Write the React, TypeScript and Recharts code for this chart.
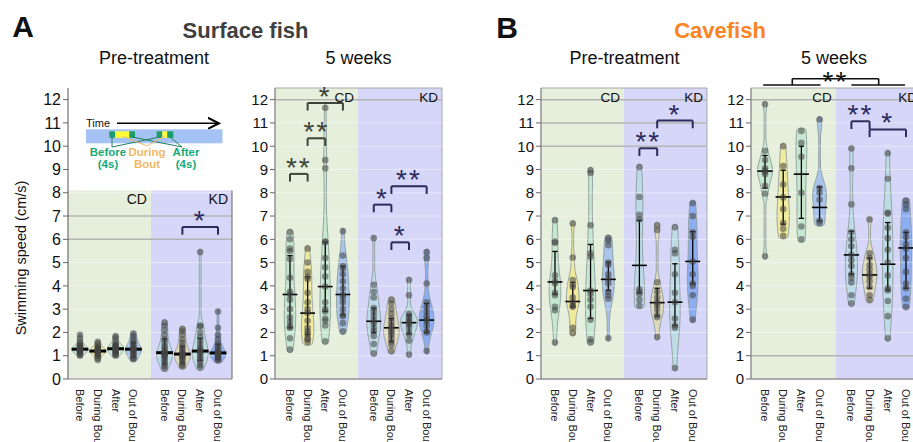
import React from 'react'
import {
  ComposedChart,
  Area,
  Scatter,
  XAxis,
  YAxis,
  ReferenceArea,
  ReferenceLine
} from 'recharts'

const categories = ['Before', 'During Bout', 'After', 'Out of Bout']
const slots = [1, 2, 3, 4, 5.75, 6.75, 7.75, 8.75]
const yTicks = [0, 1, 2, 3, 4, 5, 6, 7, 8, 9, 10, 11, 12]

// Surface fish, pre-treatment (CD x4 then KD x4)
const surfacePreDots = [
  [1.0, 1.05, 1.1, 1.15, 1.2, 1.22, 1.25, 1.28, 1.3, 1.32, 1.35, 1.4, 1.45, 1.5, 1.6, 1.75, 1.9],
  [0.82, 0.9, 1.0, 1.05, 1.1, 1.15, 1.18, 1.2, 1.22, 1.25, 1.3, 1.35, 1.4, 1.5, 1.6],
  [1.0, 1.05, 1.1, 1.15, 1.2, 1.25, 1.3, 1.32, 1.35, 1.4, 1.45, 1.5, 1.6, 1.75, 1.85],
  [0.85, 0.9, 1.0, 1.05, 1.1, 1.2, 1.25, 1.28, 1.3, 1.35, 1.4, 1.5, 1.6, 1.7, 1.85, 1.95],
  [0.45, 0.55, 0.65, 0.75, 0.85, 0.95, 1.0, 1.05, 1.1, 1.13, 1.2, 1.3, 1.4, 1.55, 1.7, 1.9, 2.1, 2.3, 2.42],
  [0.55, 0.6, 0.7, 0.8, 0.9, 0.95, 1.0, 1.05, 1.07, 1.1, 1.2, 1.3, 1.4, 1.55, 1.7, 1.9, 2.05, 2.15],
  [0.5, 0.6, 0.75, 0.85, 0.95, 1.05, 1.15, 1.2, 1.25, 1.35, 1.5, 1.65, 1.8, 2.0, 2.25, 2.3, 5.45],
  [0.8, 0.85, 0.9, 0.95, 1.0, 1.05, 1.1, 1.12, 1.15, 1.2, 1.3, 1.4, 1.5, 1.7, 1.9, 2.2, 2.9]
]
const surfacePreMedians = [1.28, 1.2, 1.3, 1.28, 1.13, 1.07, 1.2, 1.12]
const surfacePreErrors = [[1.1, 1.45], [1.0, 1.38], [1.12, 1.5], [0.95, 1.55], [0.65, 1.72], [0.7, 1.4], [0.8, 1.75], [0.85, 1.5]]
const surfacePreSig = [[5, 7, 6.53, '*']]

// Surface fish, 5 weeks
const surface5wDots = [
  [1.27, 1.75, 2.2, 2.25, 2.45, 2.65, 3.0, 3.4, 3.63, 3.75, 4.35, 5.15, 5.5, 5.6, 6.0, 6.3],
  [1.58, 1.7, 1.75, 1.93, 2.05, 2.2, 2.5, 2.83, 3.0, 3.3, 3.7, 4.3, 4.4, 4.6, 5.0, 5.6],
  [1.62, 2.3, 2.5, 2.6, 2.9, 3.0, 3.3, 3.97, 4.4, 4.8, 5.2, 5.88, 5.9, 9.05, 9.4, 11.65],
  [2.05, 2.4, 2.7, 2.75, 3.0, 3.3, 3.5, 3.63, 3.9, 4.2, 4.5, 4.75, 4.85, 5.3, 6.35],
  [1.1, 1.5, 1.85, 2.05, 2.2, 2.4, 2.5, 2.7, 2.9, 3.05, 3.5, 3.75, 4.05, 6.05],
  [1.2, 1.45, 1.6, 1.75, 1.9, 2.0, 2.1, 2.2, 2.3, 2.45, 2.6, 2.8, 3.0, 3.25, 3.4],
  [1.05, 1.65, 1.9, 2.0, 2.2, 2.35, 2.42, 2.5, 2.6, 2.7, 2.8, 3.6, 4.25],
  [1.2, 2.0, 2.05, 2.3, 2.5, 2.55, 2.7, 2.9, 3.1, 3.3, 4.1, 5.2, 5.45]
]
const surface5wMedians = [3.63, 2.83, 3.97, 3.63, 2.48, 2.2, 2.42, 2.53]
const surface5wErrors = [[2.2, 5.3], [1.9, 4.4], [2.9, 5.88], [2.75, 4.85], [2.0, 3.05], [1.6, 2.6], [1.95, 2.75], [2.0, 3.25]]
const surface5wSig = [
  [0, 1, 8.81, '**'],
  [1, 2, 10.34, '**'],
  [1, 3, 11.86, '*'],
  [4, 5, 7.49, '*'],
  [5, 7, 8.28, '**'],
  [5, 6, 5.87, '*']
]

// Cavefish, pre-treatment
const cavePreDots = [
  [1.57, 2.95, 3.1, 3.6, 3.7, 4.1, 4.2, 4.45, 5.85, 5.9, 6.82],
  [1.98, 2.2, 3.1, 3.15, 3.3, 3.5, 3.95, 4.05, 4.25, 5.22, 6.68],
  [1.58, 1.7, 2.55, 3.1, 3.4, 3.65, 3.8, 5.25, 5.4, 6.6, 8.85, 8.97],
  [1.75, 3.45, 3.6, 3.75, 4.1, 4.3, 4.5, 4.9, 5.0, 5.75, 5.95, 6.05],
  [3.15, 3.4, 3.65, 3.75, 3.85, 6.85, 7.05, 7.82, 9.1],
  [1.8, 2.65, 2.75, 3.0, 3.2, 3.3, 3.5, 3.75, 4.15, 6.4, 6.6],
  [0.47, 2.2, 2.3, 2.6, 3.3, 3.7, 4.5, 5.4, 5.55, 6.52],
  [2.55, 3.6, 4.0, 4.1, 4.5, 5.05, 6.1, 6.3, 7.0, 7.55]
]
const cavePreMedians = [4.17, 3.33, 3.8, 4.28, 4.88, 3.28, 3.3, 5.05]
const cavePreErrors = [[3.65, 5.48], [3.1, 4.15], [2.6, 5.78], [3.8, 5.02], [3.7, 6.82], [2.7, 3.9], [2.3, 4.95], [4.1, 6.33]]
const cavePreSig = [[4, 5, 9.91, '**'], [5, 7, 11.1, '*']]

// Cavefish, 5 weeks
const cave5wDots = [
  [5.27, 7.97, 8.3, 8.8, 8.9, 8.95, 9.05, 9.4, 9.8, 11.8],
  [6.15, 6.45, 6.7, 7.3, 7.8, 8.35, 9.15, 10.0],
  [6.0, 6.55, 8.0, 9.55, 10.15, 10.65],
  [6.7, 6.8, 7.7, 8.0, 8.2, 11.15],
  [3.25, 3.6, 4.15, 4.35, 4.5, 4.85, 5.1, 5.33, 5.7, 6.0, 6.3, 7.5, 9.05, 9.9],
  [3.4, 3.6, 3.95, 4.2, 4.4, 4.5, 4.7, 4.9, 5.2, 5.4, 6.85],
  [1.75, 2.7, 3.35, 3.8, 3.9, 4.45, 5.0, 5.55, 6.05, 6.5, 7.1, 7.15, 8.6, 9.7],
  [3.1, 3.45, 3.9, 4.1, 4.6, 5.2, 5.6, 5.8, 6.1, 6.3, 7.3, 7.5, 7.65]
]
const cave5wMedians = [8.93, 7.82, 8.8, 7.37, 5.33, 4.47, 4.93, 5.63]
const cave5wErrors = [[8.2, 9.6], [6.65, 8.97], [6.9, 10.0], [6.8, 8.25], [4.5, 6.35], [3.9, 5.2], [3.8, 6.72], [3.9, 6.3]]
const cave5wSig = [[4, 5, 11.07, '**'], [5, 7, 10.72, '*']]

const violinFills = ['#c0e6cf', '#f1e98e', '#c0e6cf', '#9fbdee', '#b8dbe6', '#e0dbb0', '#b8dde2', '#7fa6f0']
const CD_BG = '#e6eedc'
const KD_BG = '#d6d6f9'
const CD_INK = '#3b4437'
const KD_INK = '#2b2b5c'

function bandwidth(vals: number[]) {
  const n = vals.length
  const mean = vals.reduce((s, v) => s + v, 0) / n
  const sd = Math.sqrt(vals.reduce((s, v) => s + (v - mean) ** 2, 0) / (n - 1))
  const s = [...vals].sort((a, b) => a - b)
  const q = (p: number) => {
    const i = (s.length - 1) * p
    const lo = Math.floor(i)
    return s[lo] + (s[Math.min(lo + 1, s.length - 1)] - s[lo]) * (i - lo)
  }
  const iqr = q(0.75) - q(0.25)
  const spread = iqr > 0 ? Math.min(sd, iqr / 1.34) : sd
  return Math.max(0.9 * spread * Math.pow(n, -0.2), 0.08)
}

function density(vals: number[], h: number, v: number) {
  let sum = 0
  for (const x of vals) sum += Math.exp(-0.5 * ((v - x) / h) ** 2)
  return sum / (vals.length * h * Math.sqrt(2 * Math.PI))
}

// KDE outline of one violin, clipped to data range with rounded caps
function violinOutline(vals: number[]) {
  const min = Math.min(...vals)
  const max = Math.max(...vals)
  const h = bandwidth(vals)
  const cap = Math.min(0.14, h * 0.6)
  const pts: { v: number; d: number }[] = []
  const capT = [1, 0.8, 0.55, 0.3, 0.1]
  capT.forEach(t => pts.push({ v: min - cap * t, d: density(vals, h, min) * Math.sqrt(1 - t * t) }))
  const steps = 50
  for (let i = 0; i <= steps; i++) {
    const v = min + ((max - min) * i) / steps
    pts.push({ v, d: density(vals, h, v) })
  }
  ;[...capT].reverse().forEach(t => pts.push({ v: max + cap * t, d: density(vals, h, max) * Math.sqrt(1 - t * t) }))
  return pts
}

const panels = [
  {
    id: 'surfacePre', left: 28, width: 210, right: 6, xDomain: [0.326, 9.536], split: 4.987, bgTop: 8.1,
    dots: surfacePreDots, medians: surfacePreMedians, errors: surfacePreErrors, sig: surfacePreSig,
    grid: [6, 7], maxHalfPx: 8, widthExp: 0, medianHalf: 0.47, medianStroke: 3, tickFont: 16, boxed: false, labelFont: 14
  },
  {
    id: 'surface5w', left: 235, width: 211, right: 4, xDomain: [0.15, 9.62], split: 4.855, bgTop: 12.5,
    dots: surface5wDots, medians: surface5wMedians, errors: surface5wErrors, sig: surface5wSig,
    grid: [12], maxHalfPx: 8.5, widthExp: 0.35, medianHalf: 0.42, medianStroke: 1.6, tickFont: 15, boxed: true, labelFont: 13.5
  },
  {
    id: 'cavePre', left: 501, width: 210, right: 4, xDomain: [0.212, 9.554], split: 4.883, bgTop: 12.5,
    dots: cavePreDots, medians: cavePreMedians, errors: cavePreErrors, sig: cavePreSig,
    grid: [10, 11, 12], maxHalfPx: 6.5, widthExp: 0.25, medianHalf: 0.42, medianStroke: 1.6, tickFont: 15, boxed: true, labelFont: 13.5
  },
  {
    id: 'cave5w', left: 711, width: 214, right: 4, xDomain: [0.23, 9.576], split: 4.886, bgTop: 12.5,
    dots: cave5wDots, medians: cave5wMedians, errors: cave5wErrors, sig: cave5wSig,
    grid: [1, 12], maxHalfPx: 7.5, widthExp: 0.3, medianHalf: 0.42, medianStroke: 1.6, tickFont: 15, boxed: true, labelFont: 13.5,
    groupSig: true
  }
]

const XTick = (props: any) => {
  const { x, y, payload } = props
  let idx = 0
  slots.forEach((s, i) => {
    if (Math.abs(s - payload.value) < Math.abs(slots[idx] - payload.value)) idx = i
  })
  return (
    <text
      x={0}
      y={0}
      transform={`translate(${x},${y + 2}) rotate(90)`}
      dominantBaseline="central"
      fontSize={11}
      fill="#222"
    >
      {categories[idx % 4]}
    </text>
  )
}

const Dot = (props: any) => <circle cx={props.cx} cy={props.cy} r={3.3} fill="#444" fillOpacity={0.55} />

function ViolinPanel({ p }: { p: any }) {
  const plotW = p.width - 40 - p.right
  const pxPerUnit = plotW / (p.xDomain[1] - p.xDomain[0])
  const outlines = p.dots.map((vals: number[]) => violinOutline(vals))
  const peaks = outlines.map((o: any[]) => Math.max(...o.map(q => q.d)))
  const maxPeak = Math.max(...peaks)
  const violins = outlines.map((o: any[], i: number) => {
    const half = (p.maxHalfPx * Math.pow(peaks[i] / maxPeak, p.widthExp)) / pxPerUnit
    return o.map((q, k) => {
      const isCap = k < 5 || k > o.length - 6
      const w = Math.max((q.d / peaks[i]) * half, isCap ? 0 : 0.05)
      return { v: q.v, band: [slots[i] - w, slots[i] + w] }
    })
  })
  const [x0, x1] = p.xDomain
  const label = (value: string) => ({ value, position: 'insideTopRight', offset: 4, fontSize: p.labelFont, fill: '#111' })
  const faint = yTicks.filter(t => t > 0 && t < p.bgTop)

  return (
    <ComposedChart
      width={p.width}
      height={442}
      layout="vertical"
      margin={{ top: 88, right: p.right, bottom: 0, left: 0 }}
    >
      <XAxis
        type="number"
        dataKey="x"
        domain={p.xDomain}
        allowDataOverflow
        ticks={slots}
        interval={0}
        tick={<XTick />}
        tickLine={false}
        axisLine={{ stroke: '#888' }}
        height={63}
      />
      <YAxis
        type="number"
        dataKey="v"
        domain={[0, 12.5]}
        reversed
        allowDataOverflow
        ticks={yTicks}
        interval={0}
        width={40}
        tickSize={5}
        tickMargin={2}
        axisLine={{ stroke: p.boxed ? '#888' : '#555' }}
        tickLine={{ stroke: '#666' }}
        tick={{ fontSize: p.tickFont, fill: '#111' }}
      />
      <ReferenceArea x1={x0} x2={p.split} y1={0} y2={p.bgTop} fill={CD_BG} fillOpacity={1} stroke="none" label={label('CD')} />
      <ReferenceArea x1={p.split} x2={x1} y1={0} y2={p.bgTop} fill={KD_BG} fillOpacity={1} stroke="none" label={label('KD')} />
      {faint.map(t => (
        <ReferenceLine key={'f' + t} y={t} stroke="#ffffff" strokeOpacity={0.4} strokeWidth={1} />
      ))}
      {p.grid.map((t: number) => (
        <ReferenceLine key={'g' + t} y={t} stroke="#b4b4b4" strokeWidth={1.5} />
      ))}
      {violins.map((data: any[], i: number) => (
        <Area
          key={'v' + i}
          data={data}
          dataKey="band"
          type="monotone"
          fill={violinFills[i]}
          fillOpacity={0.85}
          stroke="#8d9b9a"
          strokeWidth={0.9}
          dot={false}
          activeDot={false}
          isAnimationActive={false}
        />
      ))}
      {p.dots.map((vals: number[], i: number) => (
        <Scatter
          key={'d' + i}
          data={vals.map(v => ({ x: slots[i], v }))}
          shape={<Dot />}
          isAnimationActive={false}
        />
      ))}
      {p.errors.map((e: number[], i: number) => (
        <React.Fragment key={'e' + i}>
          <ReferenceLine segment={[{ x: slots[i], y: e[0] }, { x: slots[i], y: e[1] }]} stroke="#000" strokeWidth={1.3} />
          <ReferenceLine segment={[{ x: slots[i] - 0.15, y: e[0] }, { x: slots[i] + 0.15, y: e[0] }]} stroke="#000" strokeWidth={1.3} />
          <ReferenceLine segment={[{ x: slots[i] - 0.15, y: e[1] }, { x: slots[i] + 0.15, y: e[1] }]} stroke="#000" strokeWidth={1.3} />
          <ReferenceLine
            segment={[{ x: slots[i] - p.medianHalf, y: p.medians[i] }, { x: slots[i] + p.medianHalf, y: p.medians[i] }]}
            stroke="#000"
            strokeWidth={p.medianStroke}
          />
        </React.Fragment>
      ))}
      {p.sig.map((s: any[], k: number) => {
        const [a, b, top, stars] = s
        const ink = a < 4 ? CD_INK : KD_INK
        return (
          <React.Fragment key={'s' + k}>
            <ReferenceLine segment={[{ x: slots[a], y: top - 0.33 }, { x: slots[a], y: top }]} stroke={ink} strokeWidth={2} />
            <ReferenceLine segment={[{ x: slots[b], y: top - 0.33 }, { x: slots[b], y: top }]} stroke={ink} strokeWidth={2} />
            <ReferenceLine
              segment={[{ x: slots[a], y: top }, { x: slots[b], y: top }]}
              stroke={ink}
              strokeWidth={2}
              label={{ value: stars, position: 'top', offset: -3, fill: ink, fontSize: 28, letterSpacing: 2 }}
            />
          </React.Fragment>
        )
      })}
      {p.boxed && (
        <ReferenceArea x1={x0} x2={x1} y1={0} y2={12.5} fill="none" fillOpacity={0} stroke="#a8a8a8" strokeWidth={1} />
      )}
      {!p.boxed && (
        <ReferenceLine segment={[{ x: x1, y: 0 }, { x: x1, y: p.bgTop }]} stroke="#777" strokeWidth={1.2} />
      )}
      {p.groupSig && (
        <>
          <ReferenceLine segment={[{ x: slots[0] - 0.1, y: 12.63 }, { x: slots[3] + 0.05, y: 12.63 }]} stroke="#111" strokeWidth={1.6} ifOverflow="visible" />
          <ReferenceLine segment={[{ x: slots[4], y: 12.63 }, { x: slots[7] - 0.05, y: 12.63 }]} stroke="#111" strokeWidth={1.6} ifOverflow="visible" />
          <ReferenceLine segment={[{ x: (slots[0] + slots[3]) / 2, y: 12.63 }, { x: (slots[0] + slots[3]) / 2, y: 12.9 }]} stroke="#111" strokeWidth={1.6} ifOverflow="visible" />
          <ReferenceLine segment={[{ x: (slots[4] + slots[7]) / 2, y: 12.63 }, { x: (slots[4] + slots[7]) / 2, y: 12.9 }]} stroke="#111" strokeWidth={1.6} ifOverflow="visible" />
          <ReferenceLine
            segment={[{ x: (slots[0] + slots[3]) / 2, y: 12.9 }, { x: (slots[4] + slots[7]) / 2, y: 12.9 }]}
            stroke="#111"
            strokeWidth={1.6}
            ifOverflow="visible"
            label={{ value: '**', position: 'top', offset: -12, fill: '#111', fontSize: 28, letterSpacing: 2 }}
          />
        </>
      )}
    </ComposedChart>
  )
}

const Title = ({ x, y, size, bold, color, children }: any) => (
  <div
    style={{
      position: 'absolute',
      left: x,
      top: y,
      transform: 'translate(-50%, -50%)',
      fontSize: size,
      fontWeight: bold ? 700 : 400,
      color: color || '#111',
      whiteSpace: 'nowrap',
      lineHeight: 1
    }}
  >
    {children}
  </div>
)

// little timeline sketch drawn inside the first panel
const BoutSketch = () => (
  <svg style={{ position: 'absolute', left: 0, top: 0 }} width={240} height={180}>
    <defs>
      <marker id="arr" markerWidth="8" markerHeight="8" refX="7" refY="4" orient="auto">
        <path d="M0,0.5 L7,4 L0,7.5" fill="none" stroke="#000" strokeWidth="1.3" />
      </marker>
    </defs>
    <text x={86} y={126.5} fontSize={11} fill="#111">Time</text>
    <line x1={117} y1={123.3} x2={219} y2={123.3} stroke="#000" strokeWidth={1.6} markerEnd="url(#arr)" />
    <rect x={86} y={129.3} width={136.5} height={14} fill="#a4c2f4" />
    <rect x={109.3} y={131.3} width={5.7} height={6.5} fill="#1c9d6c" />
    <rect x={115} y={131.3} width={14.3} height={6.5} fill="#ffff33" />
    <rect x={129.3} y={131.3} width={5.7} height={6.5} fill="#1c9d6c" />
    <rect x={156.7} y={131.3} width={5.6} height={6.5} fill="#1c9d6c" />
    <rect x={162.3} y={131.3} width={5} height={6.5} fill="#ffff33" />
    <rect x={167.3} y={131.3} width={6} height={6.5} fill="#1c9d6c" />
    <line x1={112} y1={137} x2={112} y2={147} stroke="#1f7f5a" strokeWidth={1} />
    <line x1={159.5} y1={137} x2={112} y2={147} stroke="#1f7f5a" strokeWidth={1} />
    <line x1={132} y1={137} x2={182} y2={147} stroke="#1f7f5a" strokeWidth={1} />
    <line x1={170} y1={137} x2={182} y2={147} stroke="#1f7f5a" strokeWidth={1} />
    <line x1={122} y1={136} x2={147} y2={146} stroke="#f0b866" strokeWidth={1} />
    <line x1={165} y1={136} x2={147} y2={146} stroke="#f0b866" strokeWidth={1} />
    <g fontSize={11.5} fontWeight={700} textAnchor="middle">
      <text x={108} y={156} fill="#1aa873">Before</text>
      <text x={108} y={168} fill="#1aa873">(4s)</text>
      <text x={147} y={156} fill="#f0b866">During</text>
      <text x={147} y={168} fill="#f0b866">Bout</text>
      <text x={186} y={156} fill="#1aa873">After</text>
      <text x={186} y={168} fill="#1aa873">(4s)</text>
    </g>
  </svg>
)

export default function App() {
  return (
    <div
      style={{
        position: 'fixed',
        left: 0,
        top: 0,
        width: 913,
        height: 442,
        overflow: 'hidden',
        background: '#fff',
        fontFamily: '"Liberation Sans", Arial, sans-serif'
      }}
    >
      {panels.map(p => (
        <div key={p.id} style={{ position: 'absolute', left: p.left, top: 0 }}>
          <ViolinPanel p={p} />
        </div>
      ))}
      <BoutSketch />
      <Title x={23} y={27} size={30} bold>A</Title>
      <Title x={245.5} y={31} size={22} bold color="#404040">Surface fish</Title>
      <Title x={154} y={58} size={18}>Pre-treatment</Title>
      <Title x={358.5} y={58} size={18}>5 weeks</Title>
      <Title x={507} y={28} size={30} bold>B</Title>
      <Title x={720} y={31} size={22} bold color="#fb8322">Cavefish</Title>
      <Title x={624.5} y={58} size={18}>Pre-treatment</Title>
      <Title x={834} y={58} size={18}>5 weeks</Title>
      <div
        style={{
          position: 'absolute',
          left: 21,
          top: 258,
          transform: 'translate(-50%, -50%) rotate(-90deg)',
          fontSize: 14.5,
          color: '#111',
          whiteSpace: 'nowrap',
          lineHeight: 1
        }}
      >
        Swimming speed (cm/s)
      </div>
    </div>
  )
}
